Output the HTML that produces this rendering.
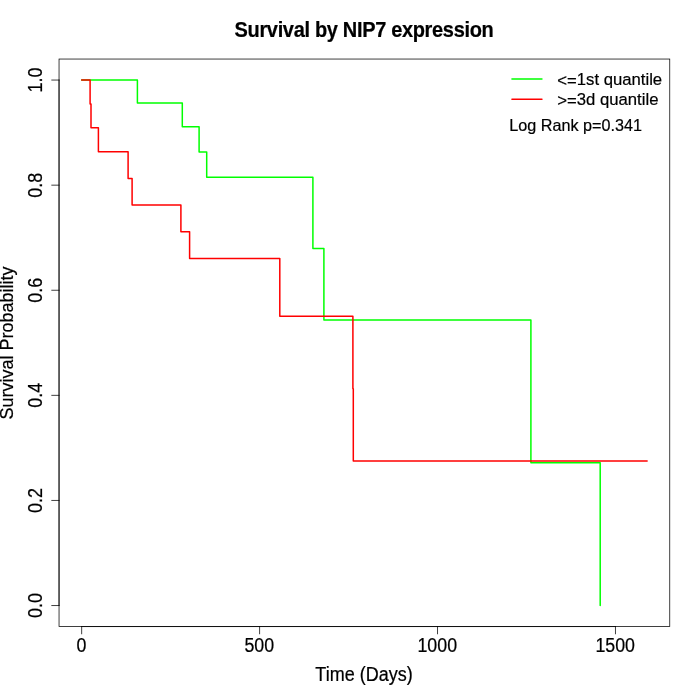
<!DOCTYPE html>
<html lang="en">
<head>
<meta charset="utf-8">
<title>Survival by NIP7 expression</title>
<style>
html,body{margin:0;padding:0;background:#fff;}
body{width:700px;height:700px;overflow:hidden;}
svg{display:block;will-change:transform;}
svg text{font-family:"Liberation Sans", Arial, Helvetica, sans-serif;fill:#000;stroke:#000;stroke-width:0.2px;}
.ax{stroke:#000;stroke-width:0.75;fill:none;stroke-linecap:square;}
.bx{stroke:#000;stroke-width:0.75;fill:none;}
.cv{fill:none;stroke-width:1.5;stroke-linejoin:round;stroke-linecap:round;}
</style>
</head>
<body>
<svg width="700" height="700" viewBox="0 0 700 700">
<rect x="0" y="0" width="700" height="700" fill="#ffffff"/>
<polyline class="cv" stroke="#00ff00" points="81.66,80.06 137.40,80.06 137.40,102.91 182.30,102.91 182.30,126.84 199.10,126.84 199.10,152.04 206.70,152.04 206.70,177.23 312.90,177.23 312.90,248.62 323.90,248.62 323.90,320.00 530.90,320.00 530.90,462.77 600.20,462.77 600.20,605.54"/>
<polyline class="cv" stroke="#ff0000" points="81.66,80.06 90.10,80.06 90.10,103.94 91.00,103.94 91.00,127.83 98.40,127.83 98.40,151.72 128.10,151.72 128.10,178.41 132.10,178.41 132.10,205.11 180.90,205.11 180.90,231.80 189.60,231.80 189.60,258.50 279.80,258.50 279.80,316.34 352.90,316.34 352.90,388.64 353.30,388.64 353.30,460.94 647.14,460.94"/>
<line class="ax" x1="81.66" y1="626.56" x2="615.47" y2="626.56"/>
<line class="ax" x1="81.66" y1="626.56" x2="81.66" y2="633.76"/>
<text transform="translate(81.36,651.90) scale(1,1.14)" font-size="17.8" text-anchor="middle">0</text>
<line class="ax" x1="259.60" y1="626.56" x2="259.60" y2="633.76"/>
<text transform="translate(259.30,651.90) scale(1,1.14)" font-size="17.8" text-anchor="middle">500</text>
<line class="ax" x1="437.53" y1="626.56" x2="437.53" y2="633.76"/>
<text transform="translate(437.23,651.90) scale(1,1.14)" font-size="17.8" text-anchor="middle">1000</text>
<line class="ax" x1="615.47" y1="626.56" x2="615.47" y2="633.76"/>
<text transform="translate(615.17,651.90) scale(1,1.14)" font-size="17.8" text-anchor="middle">1500</text>
<line class="ax" x1="59.04" y1="605.54" x2="59.04" y2="80.06"/>
<line class="ax" x1="59.04" y1="605.54" x2="51.84" y2="605.54"/>
<text transform="translate(42.00,605.54) rotate(-90) scale(1,1.13)" font-size="18" text-anchor="middle">0.0</text>
<line class="ax" x1="59.04" y1="500.44" x2="51.84" y2="500.44"/>
<text transform="translate(42.00,500.44) rotate(-90) scale(1,1.13)" font-size="18" text-anchor="middle">0.2</text>
<line class="ax" x1="59.04" y1="395.35" x2="51.84" y2="395.35"/>
<text transform="translate(42.00,395.35) rotate(-90) scale(1,1.13)" font-size="18" text-anchor="middle">0.4</text>
<line class="ax" x1="59.04" y1="290.25" x2="51.84" y2="290.25"/>
<text transform="translate(42.00,290.25) rotate(-90) scale(1,1.13)" font-size="18" text-anchor="middle">0.6</text>
<line class="ax" x1="59.04" y1="185.16" x2="51.84" y2="185.16"/>
<text transform="translate(42.00,185.16) rotate(-90) scale(1,1.13)" font-size="18" text-anchor="middle">0.8</text>
<line class="ax" x1="59.04" y1="80.06" x2="51.84" y2="80.06"/>
<text transform="translate(42.00,80.06) rotate(-90) scale(1,1.13)" font-size="18" text-anchor="middle">1.0</text>
<rect class="bx" x="59.04" y="59.04" width="610.72" height="567.52"/>
<text transform="translate(234.50,37.10) scale(1,1.065)" font-size="20.0" font-weight="bold" letter-spacing="-0.33">Survival by NIP7 expression</text>
<text transform="translate(364.00,680.60) scale(1,1.11)" font-size="18" text-anchor="middle">Time (Days)</text>
<text transform="translate(13.00,343.00) rotate(-90) scale(1,1.045)" font-size="18" text-anchor="middle">Survival Probability</text>
<line class="cv" stroke="#00ff00" x1="511.95" y1="78.9" x2="541.95" y2="78.9"/>
<line class="cv" stroke="#ff0000" x1="511.95" y1="99.25" x2="541.95" y2="99.25"/>
<text transform="translate(557.30,84.70) scale(1,1.0)" font-size="16.7"><tspan dy="1.5">&lt;=</tspan><tspan dy="-1.5">1st quantile</tspan></text>
<text transform="translate(557.30,104.80) scale(1,1.0)" font-size="16.7"><tspan dy="1.5">&gt;=</tspan><tspan dy="-1.5">3d quantile</tspan></text>
<text transform="translate(509.30,130.80) scale(1,1.045)" font-size="16.2">Log Rank p=0.341</text>
</svg>
</body>
</html>
